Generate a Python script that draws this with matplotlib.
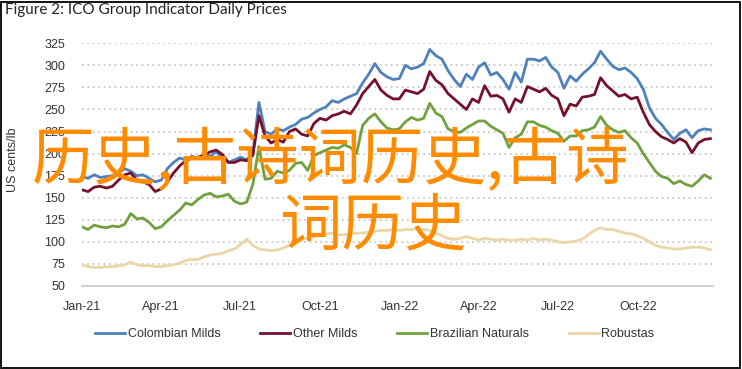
import matplotlib
matplotlib.use("Agg")
import matplotlib.pyplot as plt
from matplotlib.patches import Rectangle
import pandas as pd

# weekly samples (US cents/lb)
dates = pd.date_range("2021-01-01", periods=104, freq="7D")

colombian = [174, 172, 176, 173, 174, 175, 178, 183, 180, 175,
             176, 172, 168, 170, 183, 190, 195, 193, 197, 195,
             199, 197, 202, 195, 190, 193, 196, 193, 200, 258,
             225, 222, 228, 226, 230, 233, 239, 241, 246, 250,
             253, 260, 258, 262, 265, 268, 280, 290, 302, 292,
             287, 284, 285, 300, 296, 298, 302, 318, 311, 307,
             294, 284, 276, 290, 284, 298, 303, 289, 292, 284,
             273, 292, 281, 307, 307, 305, 309, 298, 292, 274,
             288, 282, 290, 296, 303, 316, 307, 299, 295, 297,
             292, 285, 273, 252, 240, 233, 224, 216, 223, 227,
             218, 226, 228, 227]

other_milds = [159, 157, 162, 163, 161, 163, 170, 176, 178, 170,
               168, 165, 157, 160, 168, 178, 186, 192, 195, 196,
               198, 202, 204, 199, 190, 190, 193, 192, 198, 243,
               220, 212, 216, 213, 225, 228, 222, 220, 234, 240,
               238, 243, 245, 248, 245, 255, 268, 276, 284, 272,
               266, 262, 262, 272, 270, 268, 273, 293, 283, 278,
               268, 262, 256, 250, 262, 258, 277, 265, 266, 262,
               247, 262, 258, 276, 273, 270, 274, 266, 262, 243,
               256, 254, 264, 265, 267, 286, 277, 271, 265, 267,
               262, 264, 247, 233, 225, 219, 216, 212, 217, 213,
               201, 212, 216, 217]

brazilian = [117, 114, 119, 117, 116, 118, 117, 120, 132, 126,
             127, 122, 115, 117, 124, 130, 136, 144, 142, 148,
             153, 155, 151, 152, 154, 146, 143, 145, 165, 208,
             171, 172, 180, 178, 181, 189, 190, 181, 198, 201,
             204, 207, 206, 210, 207, 200, 232, 240, 245, 236,
             229, 227, 228, 236, 241, 238, 240, 257, 246, 242,
             228, 225, 224, 229, 233, 237, 237, 231, 227, 223,
             207, 218, 222, 236, 236, 232, 230, 226, 223, 214,
             220, 220, 226, 227, 230, 242, 232, 227, 224, 226,
             218, 212, 200, 190, 180, 174, 172, 166, 169, 165,
             163, 169, 176, 172]

robustas = [74, 72, 71, 71, 72, 72, 73, 74, 77, 74,
            73, 73, 72, 72, 73, 74, 76, 79, 80, 80,
            83, 85, 86, 87, 90, 92, 97, 103, 96, 92,
            91, 90, 91, 93, 96, 100, 102, 105, 106, 107,
            109, 110, 108, 108, 109, 110, 110, 111, 112, 113,
            113, 114, 113, 114, 114, 115, 114, 113, 110, 107,
            104, 103, 104, 106, 104, 102, 104, 103, 102, 103,
            102, 102, 103, 102, 104, 102, 103, 102, 100, 99,
            100, 101, 103, 108, 113, 116, 114, 114, 112, 110,
            109, 107, 104, 100, 96, 94, 93, 92, 92, 93,
            94, 94, 93, 91]

series_names = ["Colombian Milds", "Other Milds", "Brazilian Naturals", "Robustas"]
series_colors = ["#4f81bd", "#76112c", "#71a13f", "#ead6a6"]

tick_dates = ["2021-01-01", "2021-04-01", "2021-07-01", "2021-10-01",
              "2022-01-01", "2022-04-01", "2022-07-01", "2022-10-01"]
tick_labels = ["Jan-21", "Apr-21", "Jul-21", "Oct-21",
               "Jan-22", "Apr-22", "Jul-22", "Oct-22"]
y_ticks = [50, 75, 100, 125, 150, 175, 200, 225, 250, 275, 300, 325]

txt_font = ["Liberation Sans", "DejaVu Sans"]

fig = plt.figure(figsize=(7.42, 3.69), dpi=100)
ax = fig.add_axes([82 / 742, 1 - 286 / 369, (713 - 82) / 742, (286 - 43.3) / 369])

for vals, name, col in zip([colombian, other_milds, brazilian, robustas],
                           series_names, series_colors):
    ax.plot(dates, vals, color=col, lw=2.0, label=name)

ax.set_ylim(50, 325)
ax.set_xlim(pd.Timestamp("2021-01-01"), pd.Timestamp("2022-12-26"))
ax.set_yticks(y_ticks)
ax.set_xticks([pd.Timestamp(d) for d in tick_dates])
ax.set_xticklabels(tick_labels)
ax.tick_params(length=0, labelsize=9, colors="#333333")
ax.tick_params(axis="y", pad=12)
ax.tick_params(axis="x", pad=11)
for lab in ax.get_xticklabels() + ax.get_yticklabels():
    lab.set_family(txt_font)

for v in y_ticks[1:]:
    ax.axhline(v, color="#c8c8c8", lw=1.3, ls=(0, (1, 2)), zorder=0)
for s in ["top", "right", "left"]:
    ax.spines[s].set_visible(False)
ax.spines["bottom"].set_color("#c8c8c8")
ax.spines["bottom"].set_linewidth(1.2)

ax.set_ylabel("US cents/lb", fontsize=9, family=txt_font, color="#333333")
ax.yaxis.set_label_coords(-0.1, 0.52)

leg = fig.legend(loc="center", bbox_to_anchor=(0.505, 1 - 334 / 369), ncol=4,
                 frameon=False, handlelength=2.4, handletextpad=0.2,
                 columnspacing=3.2, prop={"family": txt_font, "size": 9})
for t in leg.get_texts():
    t.set_color("#333333")

fig.text(5 / 742, 1 - 10 / 369, "Figure 2: ICO Group Indicator Daily Prices",
         fontsize=11, family=["Lato", "DejaVu Sans"], va="center", ha="left", color="#222222")

# orange overlay text
cjk = ["Noto Sans CJK SC", "DejaVu Sans"]
fig.text(331 / 742, 1 - 161 / 369, "历史,古诗词历史,古诗", fontsize=45, family=cjk,
         color="#ff8c00", ha="center", va="center")
fig.text(373 / 742, 1 - 226 / 369, "词历史", fontsize=45, family=cjk,
         color="#ff8c00", ha="center", va="center")

fig.patches.append(Rectangle((1 / 742, 1 / 369), 739 / 742, 366 / 369,
                             transform=fig.transFigure, fill=False,
                             ec="black", lw=1.3))

fig.savefig("out.png", dpi=100)
